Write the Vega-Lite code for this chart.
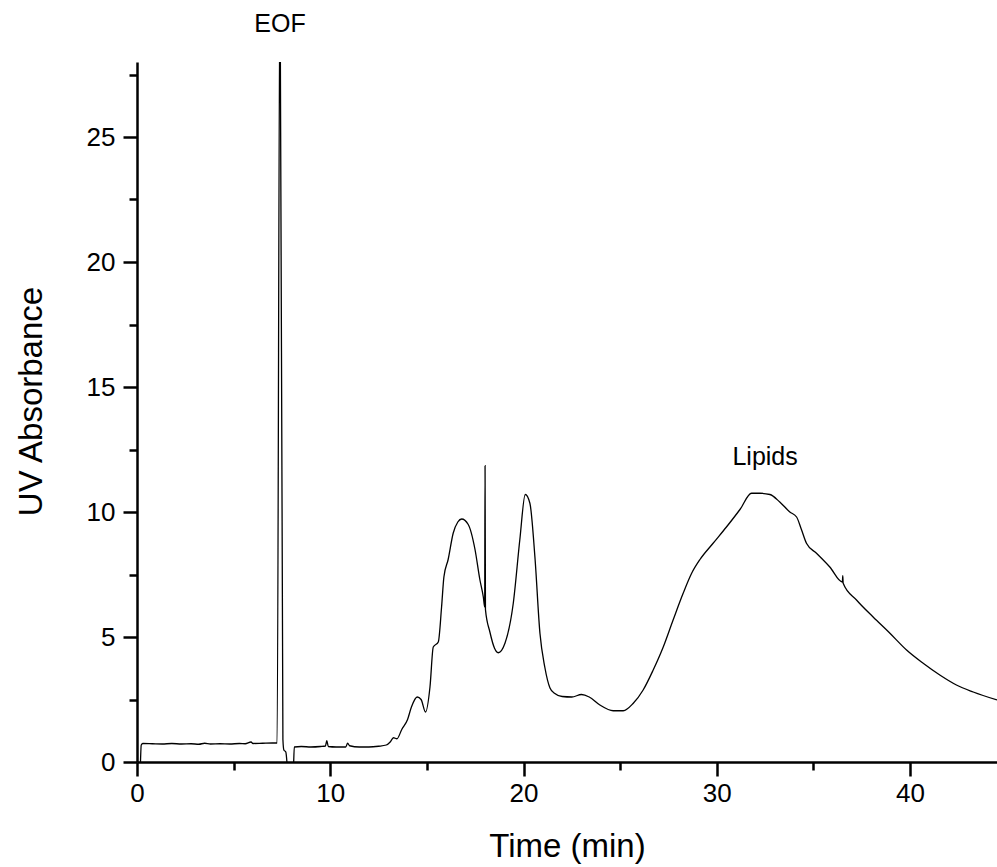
{
  "$schema": "https://vega.github.io/schema/vega-lite/v6.json",
  "width": 860,
  "height": 700,
  "autosize": {"type": "none"},
  "padding": {"left": 137, "top": 62, "right": 0, "bottom": 105},
  "background": "white",
  "config": {
    "view": {"stroke": null},
    "font": "Liberation Sans",
    "axis": {
      "domainColor": "black",
      "domainWidth": 2.5,
      "tickColor": "black",
      "tickWidth": 2.5,
      "labelColor": "black",
      "labelFont": "Liberation Sans",
      "labelFontSize": 26,
      "titleFont": "Liberation Sans",
      "titleFontSize": 33,
      "titleFontWeight": "normal",
      "titleColor": "black",
      "grid": false,
      "labelOverlap": false,
      "labelBound": false,
      "labelFlush": false
    }
  },
  "resolve": {"axis": {"x": "independent", "y": "independent"}},
  "layer": [
    {
      "data": {
        "values": [
          {"t": 0.18, "a": 0},
          {"t": 0.22, "a": 0.68},
          {"t": 0.3, "a": 0.74},
          {"t": 0.8, "a": 0.73},
          {"t": 1.3, "a": 0.72},
          {"t": 1.8, "a": 0.74},
          {"t": 2.3, "a": 0.72},
          {"t": 2.8, "a": 0.73},
          {"t": 3.2, "a": 0.71},
          {"t": 3.5, "a": 0.75},
          {"t": 3.8, "a": 0.72},
          {"t": 4.3, "a": 0.73},
          {"t": 4.8, "a": 0.72},
          {"t": 5.3, "a": 0.74},
          {"t": 5.6, "a": 0.73},
          {"t": 5.9, "a": 0.8},
          {"t": 6.0, "a": 0.74},
          {"t": 6.5, "a": 0.75},
          {"t": 7.0, "a": 0.76},
          {"t": 7.25, "a": 0.76},
          {"t": 7.4, "a": 32},
          {"t": 7.55, "a": 0.9},
          {"t": 7.6, "a": 0.48},
          {"t": 7.7, "a": 0.4},
          {"t": 7.83, "a": -0.5},
          {"t": 8.08, "a": -0.5},
          {"t": 8.14, "a": 0.6},
          {"t": 8.5, "a": 0.62},
          {"t": 9.0, "a": 0.6},
          {"t": 9.5, "a": 0.62},
          {"t": 9.75, "a": 0.64},
          {"t": 9.82, "a": 0.85},
          {"t": 9.9, "a": 0.62},
          {"t": 10.3, "a": 0.6},
          {"t": 10.8, "a": 0.6},
          {"t": 10.9, "a": 0.75},
          {"t": 11.0, "a": 0.65},
          {"t": 11.5, "a": 0.6},
          {"t": 12.0, "a": 0.6},
          {"t": 12.5, "a": 0.63},
          {"t": 12.9, "a": 0.68},
          {"t": 13.1, "a": 0.8},
          {"t": 13.27, "a": 0.97},
          {"t": 13.45, "a": 0.93},
          {"t": 13.7, "a": 1.3},
          {"t": 14.0, "a": 1.7},
          {"t": 14.2, "a": 2.2},
          {"t": 14.5, "a": 2.6},
          {"t": 14.7, "a": 2.5},
          {"t": 14.93, "a": 2.0},
          {"t": 15.16, "a": 3.0},
          {"t": 15.33, "a": 4.6},
          {"t": 15.59, "a": 4.8},
          {"t": 15.76, "a": 6.2},
          {"t": 15.88, "a": 7.4},
          {"t": 16.1, "a": 8.1},
          {"t": 16.36, "a": 9.15},
          {"t": 16.6, "a": 9.6},
          {"t": 16.8, "a": 9.72},
          {"t": 17.14, "a": 9.5},
          {"t": 17.49, "a": 8.5},
          {"t": 17.74, "a": 7.3},
          {"t": 17.92, "a": 6.6},
          {"t": 17.99, "a": 6.2},
          {"t": 18.01, "a": 11.85},
          {"t": 18.03, "a": 6.1},
          {"t": 18.26, "a": 5.2},
          {"t": 18.5, "a": 4.55},
          {"t": 18.69, "a": 4.37},
          {"t": 19.04, "a": 4.75},
          {"t": 19.47, "a": 6.35},
          {"t": 19.81, "a": 8.9},
          {"t": 20.09, "a": 10.7},
          {"t": 20.33, "a": 10.35},
          {"t": 20.59, "a": 8.2},
          {"t": 20.85, "a": 5.15},
          {"t": 21.1, "a": 3.8},
          {"t": 21.37, "a": 2.96},
          {"t": 21.6, "a": 2.75},
          {"t": 22.0, "a": 2.62},
          {"t": 22.5, "a": 2.6},
          {"t": 23.0, "a": 2.7},
          {"t": 23.4, "a": 2.6},
          {"t": 23.95, "a": 2.28},
          {"t": 24.64, "a": 2.05},
          {"t": 25.16, "a": 2.05},
          {"t": 25.68, "a": 2.35},
          {"t": 26.19, "a": 2.88},
          {"t": 26.71, "a": 3.68},
          {"t": 27.23, "a": 4.6},
          {"t": 27.74, "a": 5.68},
          {"t": 28.26, "a": 6.75},
          {"t": 28.7, "a": 7.55},
          {"t": 29.13, "a": 8.1},
          {"t": 29.81, "a": 8.75},
          {"t": 30.5, "a": 9.4},
          {"t": 31.2, "a": 10.1},
          {"t": 31.8, "a": 10.75},
          {"t": 32.23, "a": 10.75},
          {"t": 32.75, "a": 10.7},
          {"t": 33.26, "a": 10.4},
          {"t": 33.78, "a": 10.0},
          {"t": 34.13, "a": 9.8},
          {"t": 34.38, "a": 9.3},
          {"t": 34.64, "a": 8.75},
          {"t": 35.16, "a": 8.35},
          {"t": 35.85, "a": 7.8},
          {"t": 36.5, "a": 7.2},
          {"t": 36.52, "a": 7.45},
          {"t": 36.54, "a": 7.15},
          {"t": 37.23, "a": 6.48},
          {"t": 38.09, "a": 5.8},
          {"t": 38.96, "a": 5.15},
          {"t": 39.82, "a": 4.48},
          {"t": 40.68, "a": 3.95},
          {"t": 41.54, "a": 3.48},
          {"t": 42.4, "a": 3.08},
          {"t": 43.27, "a": 2.8},
          {"t": 44.5, "a": 2.48}
        ]
      },
      "mark": {"type": "line", "color": "black", "strokeWidth": 1.3, "clip": true, "interpolate": "monotone"},
      "encoding": {
        "x": {
          "field": "t",
          "type": "quantitative",
          "scale": {"domain": [0, 44.5], "nice": false, "zero": false},
          "axis": {
            "orient": "bottom",
            "title": "Time (min)",
            "values": [0, 10, 20, 30, 40],
            "tickSize": 14,
            "labelPadding": 4,
            "titlePadding": 24
          }
        },
        "y": {
          "field": "a",
          "type": "quantitative",
          "scale": {"domain": [0, 28], "nice": false, "zero": false},
          "axis": {
            "orient": "left",
            "title": "UV Absorbance",
            "values": [0, 5, 10, 15, 20, 25],
            "tickSize": 14,
            "labelPadding": 8,
            "titlePadding": 38,
            "titleY": 339
          }
        }
      }
    },
    {
      "data": {
        "values": [
          {"label": "EOF", "t": 7.4, "a": 29.2},
          {"label": "Lipids", "t": 32.5, "a": 11.9}
        ]
      },
      "mark": {"type": "text", "font": "Liberation Sans", "fontSize": 25, "color": "black", "align": "center", "baseline": "alphabetic"},
      "encoding": {
        "x": {
          "field": "t",
          "type": "quantitative",
          "axis": {
            "orient": "bottom",
            "title": null,
            "values": [5, 15, 25, 35],
            "tickSize": 8,
            "labels": false,
            "domain": false
          }
        },
        "y": {
          "field": "a",
          "type": "quantitative",
          "axis": {
            "orient": "left",
            "title": null,
            "values": [2.5, 7.5, 12.5, 17.5, 22.5, 27.5],
            "tickSize": 8,
            "labels": false,
            "domain": false
          }
        },
        "text": {"field": "label"}
      }
    }
  ]
}
